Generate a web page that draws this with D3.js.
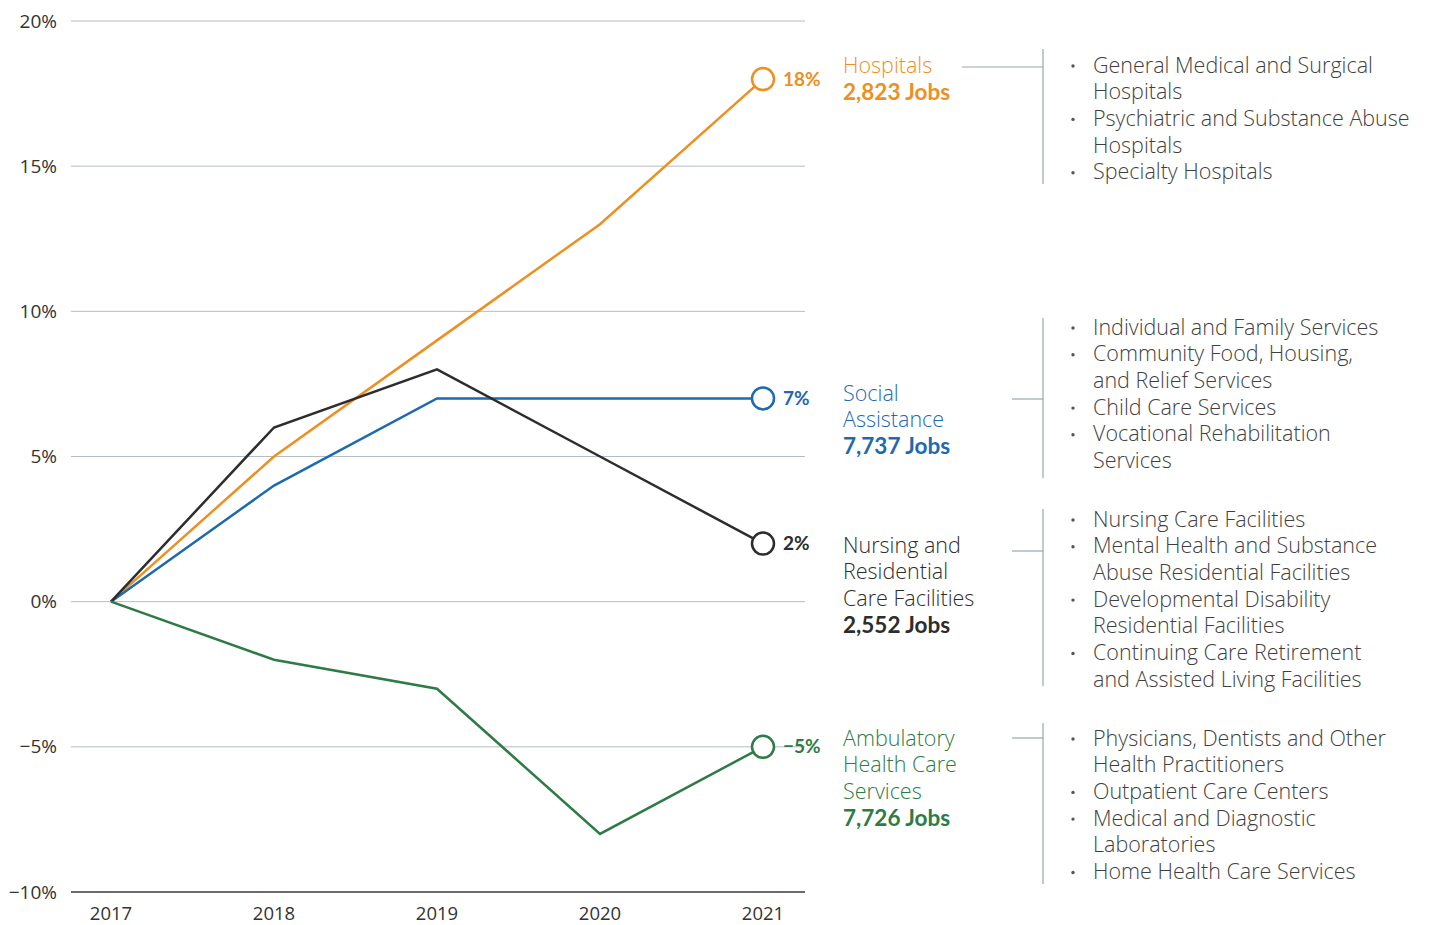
<!DOCTYPE html>
<html><head><meta charset="utf-8">
<script src="https://cdn.jsdelivr.net/npm/d3@7"></script>
<style>body{margin:0;background:#fff}svg{display:block}</style>
</head><body><svg id="c" width="1432" height="925"></svg>
<script>
const years = [2017, 2018, 2019, 2020, 2021];
const yTicks = [-10, -5, 0, 5, 10, 15, 20];
const hospitals = [0, 5, 9, 13, 18];
const social = [0, 4, 7, 7, 7];
const nursing = [0, 6, 8, 5, 2];
const ambulatory = [0, -2, -3, -8, -5];
const seriesNames = ["Hospitals", "Social Assistance", "Nursing and Residential Care Facilities", "Ambulatory Health Care Services"];
const seriesColors = ["#EE8F22", "#1F69B0", "#2d2d2d", "#2E7B45"];
const labelLines = [["Hospitals"], ["Social", "Assistance"], ["Nursing and", "Residential", "Care Facilities"], ["Ambulatory", "Health Care", "Services"]];
const jobs = ["2,823 Jobs", "7,737 Jobs", "2,552 Jobs", "7,726 Jobs"];
const endLabels = ["18%", "7%", "2%", "\u22125%"];
const subItems = [
  [["General Medical and Surgical", "Hospitals"], ["Psychiatric and Substance Abuse", "Hospitals"], ["Specialty Hospitals"]],
  [["Individual and Family Services"], ["Community Food, Housing,", "and Relief Services"], ["Child Care Services"], ["Vocational Rehabilitation", "Services"]],
  [["Nursing Care Facilities"], ["Mental Health and Substance", "Abuse Residential Facilities"], ["Developmental Disability", "Residential Facilities"], ["Continuing Care Retirement", "and Assisted Living Facilities"]],
  [["Physicians, Dentists and Other", "Health Practitioners"], ["Outpatient Care Centers"], ["Medical and Diagnostic", "Laboratories"], ["Home Health Care Services"]]
];
const allSeries = [hospitals, social, nursing, ambulatory];

const labelTop = [65, 393, 545, 738];
const listTop = [65, 327, 519, 738];
const connY = [67, 399, 551, 738];
const connX0 = [962, 1012, 1012, 1012];
const vTop = [49, 318, 509, 723];
const vBot = [184, 478, 686, 884];
const LH = 26.7;
const TXT = "Open Sans, sans-serif";

const svg = d3.select("#c");
const x = d3.scalePoint().domain(years).range([111, 763]);
const y = d3.scaleLinear().domain([-10, 20]).range([892, 21]);

svg.append("g").selectAll("line").data(yTicks).join("line")
  .attr("x1", 71).attr("x2", 805)
  .attr("y1", d => y(d)).attr("y2", d => y(d))
  .attr("stroke", d => d === -10 ? "#6b6b6b" : "#b4bcc6")
  .attr("stroke-width", d => d === -10 ? 2 : 1);

svg.append("g").selectAll("text").data(yTicks).join("text")
  .attr("x", 57).attr("y", d => y(d)).attr("dy", "0.35em")
  .attr("text-anchor", "end")
  .attr("font-family", TXT).attr("font-size", 19).attr("fill", "#333")
  .text(d => (d < 0 ? "\u2212" + Math.abs(d) : d) + "%");

svg.append("g").selectAll("text").data(years).join("text")
  .attr("x", d => x(d)).attr("y", 920)
  .attr("text-anchor", "middle")
  .attr("font-family", TXT).attr("font-size", 18.5).attr("fill", "#333")
  .text(d => d);

const line = d3.line().x((d, i) => x(years[i])).y(d => y(d));

allSeries.forEach((s, k) => {
  const col = seriesColors[k];
  svg.append("path").datum(s).attr("d", line)
    .attr("fill", "none").attr("stroke", col).attr("stroke-width", 2.5);
  const last = s[s.length - 1];
  svg.append("circle").attr("cx", x(years[4])).attr("cy", y(last)).attr("r", 11)
    .attr("fill", "#fff").attr("stroke", col).attr("stroke-width", 2.5);
  svg.append("text").attr("x", 783).attr("y", y(last)).attr("dy", "0.35em")
    .attr("font-family", "Lato, sans-serif").attr("font-weight", 700).attr("font-size", 19)
    .attr("fill", col).text(endLabels[k]);

  const g = svg.append("g");
  labelLines[k].forEach((t, i) => {
    g.append("text").attr("x", 843).attr("y", labelTop[k] + i * LH).attr("dy", "0.35em")
      .attr("font-family", TXT).attr("font-weight", 300).attr("font-size", 21.5)
      .attr("fill", col).text(t);
  });
  g.append("text").attr("x", 843).attr("y", labelTop[k] + labelLines[k].length * LH).attr("dy", "0.35em")
    .attr("font-family", "Lato, sans-serif").attr("font-weight", 700).attr("font-size", 22.5)
    .attr("fill", col).text(jobs[k]);

  svg.append("line").attr("x1", connX0[k]).attr("x2", 1043).attr("y1", connY[k]).attr("y2", connY[k])
    .attr("stroke", "#9aa5b1").attr("stroke-width", 1.2);
  svg.append("line").attr("x1", 1043).attr("x2", 1043).attr("y1", vTop[k]).attr("y2", vBot[k])
    .attr("stroke", "#9aa5b1").attr("stroke-width", 1.2);

  let row = 0;
  subItems[k].forEach(item => {
    item.forEach((t, j) => {
      const yy = listTop[k] + row * LH;
      if (j === 0) {
        svg.append("circle").attr("cx", 1073).attr("cy", yy + 1).attr("r", 1.7).attr("fill", "#555");
      }
      svg.append("text").attr("x", 1093).attr("y", yy).attr("dy", "0.35em")
        .attr("font-family", TXT).attr("font-weight", 300).attr("font-size", 21.5)
        .attr("fill", "#3f3f3f").text(t);
      row++;
    });
  });
});
</script></body></html>
